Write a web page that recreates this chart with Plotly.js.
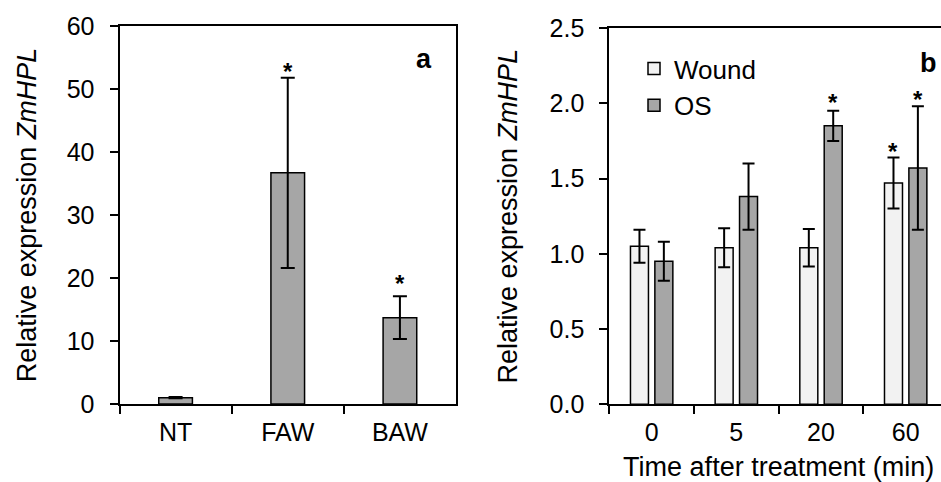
<!DOCTYPE html>
<html>
<head>
<meta charset="utf-8">
<script src="https://cdn.plot.ly/plotly-3.0.1.min.js"></script>
<style>
html,body{margin:0;padding:0;background:#fff;overflow:hidden;width:941px;height:482px;}
#chart{width:950px;height:482px;}
</style>
</head>
<body>
<div id="chart"></div>
<script>
// ---- Panel a data ----
const catsA = ["NT", "FAW", "BAW"];
const valsA = [1.0, 36.7, 13.7];
const errA = [0.1, 15.1, 3.4];
const starYA = [null, 53.5, 20.0];   // asterisk heights (data units)

// ---- Panel b data ----
const catsB = ["0", "5", "20", "60"];
const woundVals = [1.05, 1.04, 1.04, 1.47];
const woundErr = [0.11, 0.13, 0.125, 0.17];
const osVals = [0.95, 1.38, 1.85, 1.57];
const osErr = [0.13, 0.22, 0.10, 0.41];
const starYWound = [null, null, null, 1.715];
const starYOS = [null, null, 2.037, 2.055];

const yTicksA = [0, 10, 20, 30, 40, 50, 60];
const yTicksB = [0, 0.5, 1.0, 1.5, 2.0, 2.5];
const yTickTextB = ["0.0", "0.5", "1.0", "1.5", "2.0", "2.5"];

const FONT = "Liberation Sans, Arial, sans-serif";
const W = 950, H = 482;
const GRAY = "#a6a6a6", LIGHT = "#f2f2f2";
const barW = 0.2125, offW = -0.25, offO = 0.038;

const traces = [
  {
    type: "bar", x: catsA, y: valsA, xaxis: "x", yaxis: "y", showlegend: false,
    marker: {color: GRAY, line: {color: "#000", width: 1.5}},
    error_y: {type: "data", array: errA, color: "#000", thickness: 2, width: 7}
  },
  {
    type: "bar", name: "Wound", x: catsB, y: woundVals, xaxis: "x2", yaxis: "y2",
    width: barW, offset: offW, legendgroup: "w",
    marker: {color: LIGHT, line: {color: "#000", width: 1.5}},
    error_y: {type: "data", array: woundErr, color: "#000", thickness: 2, width: 6}
  },
  {
    type: "bar", name: "OS", x: catsB, y: osVals, xaxis: "x2", yaxis: "y2",
    width: barW, offset: offO, legendgroup: "o",
    marker: {color: GRAY, line: {color: "#000", width: 1.5}},
    error_y: {type: "data", array: osErr, color: "#000", thickness: 2, width: 6}
  }
];

const ann = [];
function star(xref, yref, x, y) {
  ann.push({xref: xref, yref: yref, x: x, y: y, text: "<b>*</b>", showarrow: false,
    font: {family: FONT, size: 24, color: "#000"}, xanchor: "center", yanchor: "middle", yshift: -5});
}
starYA.forEach((v, i) => { if (v !== null) star("x", "y", i, v); });
starYWound.forEach((v, i) => { if (v !== null) star("x2", "y2", i + offW + barW / 2, v); });
starYOS.forEach((v, i) => { if (v !== null) star("x2", "y2", i + offO + barW / 2, v); });

ann.push({xref: "paper", yref: "paper", x: 424.3 / W, y: 1 - 59.3 / H, text: "<b>a</b>",
  showarrow: false, xanchor: "center", yanchor: "middle", font: {family: FONT, size: 27, color: "#000"}});
ann.push({xref: "paper", yref: "paper", x: 928.3 / W, y: 1 - 62.7 / H, text: "<b>b</b>",
  showarrow: false, xanchor: "center", yanchor: "middle", font: {family: FONT, size: 27, color: "#000"}});

const tickFont = {family: FONT, size: 25, color: "#000"};
const titleFont = {family: FONT, size: 27, color: "#000"};
const axCommon = {
  showline: true, linecolor: "#000", linewidth: 2, mirror: true,
  ticks: "outside", ticklen: 8, tickwidth: 2, tickcolor: "#000",
  showgrid: false, zeroline: false, tickfont: tickFont, fixedrange: true
};

const layout = {
  width: W, height: H,
  margin: {l: 0, r: 0, t: 0, b: 0},
  paper_bgcolor: "#fff", plot_bgcolor: "#fff",
  font: {family: FONT, color: "#000"},
  barmode: "group", bargap: 0.7,
  xaxis: Object.assign({}, axCommon, {domain: [119.5 / W, 456 / W], anchor: "y",
    type: "category", range: [-0.5, 2.5], tickson: "boundaries", ticklabelstandoff: 5}),
  yaxis: Object.assign({}, axCommon, {domain: [1 - 404 / H, 1 - 26 / H], anchor: "x",
    range: [0, 60], tickvals: yTicksA, ticklabelstandoff: 10,
    title: {text: "Relative expression <i>ZmHPL</i>", font: titleFont, standoff: 22}}),
  xaxis2: Object.assign({}, axCommon, {domain: [609.3 / W, 948 / W], anchor: "y2",
    type: "category", range: [-0.5, 3.5], tickson: "boundaries", ticklabelstandoff: 5,
    title: {text: "Time after treatment (min)", font: titleFont, standoff: 17}}),
  yaxis2: Object.assign({}, axCommon, {domain: [1 - 404.3 / H, 1 - 28 / H], anchor: "x2",
    range: [0, 2.5], tickvals: yTicksB, ticktext: yTickTextB, ticklabelstandoff: 10,
    title: {text: "Relative expression <i>ZmHPL</i>", font: titleFont, standoff: 24}}),
  showlegend: true,
  legend: {x: 634 / W, y: 1 - 45 / H, xanchor: "left", yanchor: "top",
    bgcolor: "rgba(0,0,0,0)", borderwidth: 0, tracegroupgap: 0, traceorder: "grouped",
    font: {family: FONT, size: 26, color: "#000"}},
  annotations: ann
};

Plotly.newPlot("chart", traces, layout, {displayModeBar: false, staticPlot: true});
</script>
</body>
</html>
